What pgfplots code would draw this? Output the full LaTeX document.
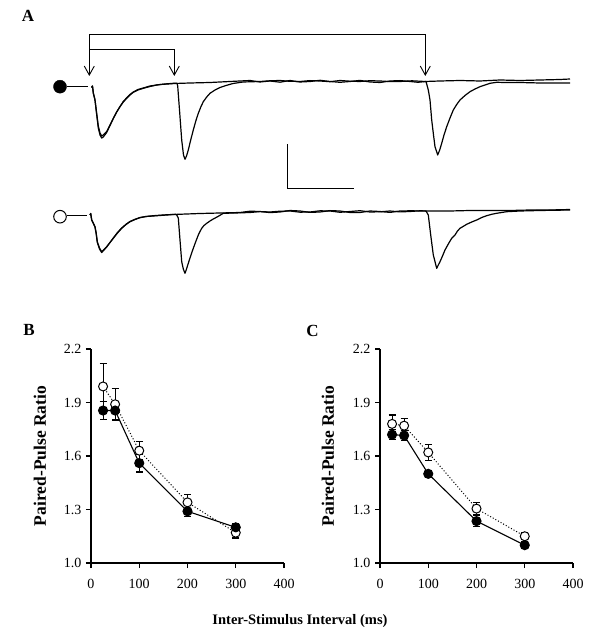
\documentclass[border=0pt]{standalone}
\usepackage{pgfplots}
\pgfplotsset{compat=1.18}
\usepackage{fontspec}
\setmainfont{Liberation Serif}
\usetikzlibrary{arrows.meta}

\pgfplotsset{
  ppr/.style={scale only axis, width=193pt, height=214pt, anchor=south west,
    xmin=0, xmax=400, ymin=1, ymax=2.2,
    axis x line*=bottom, axis y line*=left,
    xtick={0,100,200,300,400}, ytick={1.0,1.3,1.6,1.9,2.2},
    yticklabel style={xshift=-1pt, /pgf/number format/.cd, fixed, fixed zerofill, precision=1},
    xticklabel style={yshift=-8pt},
    tick align=outside, major tick length=5pt,
    tick style={line width=1.1pt, black},
    axis line style={line width=1.2pt},
    ticklabel style={font=\fontsize{14}{14}\selectfont},
    /pgf/number format/assume math mode=true,
    clip=false},
  filledser/.style={black, line width=1.1pt, solid, mark=*, mark size=4.5pt,
    mark options={solid, fill=black},
    error bars/.cd, y dir=both, y explicit,
    error bar style={solid, line width=1.1pt},
    error mark options={solid, rotate=90, mark size=3.5pt, line width=1.1pt}},
  openser/.style={black, line width=1pt, dash pattern=on 1pt off 2pt, mark=*, mark size=4.5pt,
    mark options={solid, fill=white, draw=black, line width=1pt},
    error bars/.cd, y dir=both, y explicit,
    error bar style={solid, line width=1.1pt},
    error mark options={solid, rotate=90, mark size=3.5pt, line width=1.1pt}},
  trace/.style={black, line width=1.2pt, line join=round, no marks}
}

\begin{document}
\begin{tikzpicture}
\path[use as bounding box] (0,0) rectangle (600pt,632pt);

% ---------- canvas axis (pixel coordinates, y downward negative) ----------
\begin{axis}[at={(0pt,0pt)}, anchor=south west, scale only axis,
  width=600pt, height=632pt, xmin=0, xmax=600, ymin=-632, ymax=0,
  hide axis, clip=false]

% bracket arrows
\addplot[black, line width=0.9pt, {Straight Barb[length=9pt,width=10pt]}-{Straight Barb[length=9pt,width=10pt]}]
  coordinates {(89.3,-76) (89.3,-34.3) (425.3,-34.3) (425.3,-76)};
\addplot[black, line width=0.9pt, -{Straight Barb[length=9pt,width=10pt]}]
  coordinates {(89.3,-49) (174.3,-49) (174.3,-76)};

% scale bar
\addplot[black, line width=1.1pt] coordinates {(287.3,-144.3) (287.3,-188.3) (354.3,-188.3)};

% condition symbols and dashes
\addplot[black, line width=1.2pt] coordinates {(67,-86.7) (88,-86.7)};
\addplot[black, line width=1.2pt] coordinates {(67,-215.7) (87,-215.7)};
\addplot[only marks, mark=*, mark size=6.5pt, black] coordinates {(60,-86.7)};
\addplot[only marks, mark=*, mark size=6.3pt, mark options={fill=white, draw=black, line width=1pt}] coordinates {(60,-216.7)};

% top traces, sweep with 50 ms interval
\addplot[trace] coordinates {
(91.5,-87.5) (92.5,-86) (93.3,-93) (95,-100) (96.5,-112) (98.3,-126) (100,-133) (101.7,-136)
(103.3,-135) (106.7,-131.5) (110,-125) (113.3,-118.3) (116.7,-112) (120,-106.7) (123.3,-102)
(126.7,-98.3) (130,-95) (133.3,-92.3) (138,-90) (143.3,-88.3) (150,-86.5) (156.7,-85) (165,-84)
(173.3,-83.3) (177,-83.3) (177.7,-86) (179.5,-110) (181.7,-140) (183.5,-155) (185,-159.3)
(186.5,-156) (188.3,-150) (190.7,-140) (193.3,-130) (195.8,-121) (198.3,-113.3) (200.8,-107)
(203.3,-101.7) (206.7,-97) (210,-93.3) (215,-90) (220,-87.5) (226,-85.5) (233,-83.5) (243,-82)
(260,-81.5) (270,-80.8) (280,-80.5) (290,-81.3) (300,-81.5) (310,-80.6) (320,-81) (330,-81.7)
(340,-80.5) (350,-81.2) (360,-81.5) (370,-80.7) (380,-81) (390,-81.6) (400,-81.5) (412,-80.8)
(425,-81.5) (440,-81) (460,-80.5) (480,-81) (500,-80) (520,-80.5) (540,-80) (560,-79.5) (570,-79)};
% top traces, sweep with 200 ms interval
\addplot[trace] coordinates {
(91.5,-87.5) (92.5,-86) (93.3,-93) (95,-100) (96.5,-113) (98.3,-128) (100,-135) (101.7,-138)
(103.3,-137) (106.7,-132.5) (110,-125.5) (113.3,-118.5) (116.7,-112) (120,-106.5) (123.3,-101.5)
(126.7,-97.8) (130,-94.5) (133.3,-92) (138,-89.5) (143.3,-88) (150,-86) (160,-84.5) (175,-83.5)
(190,-83) (210,-82.5) (230,-81.5) (250,-80.5) (260,-82) (270,-81) (280,-82.2) (290,-80.5)
(300,-82) (310,-81.5) (320,-80.3) (330,-81.5) (340,-82.3) (350,-81.5) (360,-80.4) (370,-82)
(380,-82.5) (390,-81) (400,-80.6) (410,-81.5) (418,-82.3) (426,-81.5) (428.3,-90) (430,-100)
(431.7,-120) (433.5,-135) (435,-146.7) (437.7,-155) (439.7,-150) (441.7,-143.3) (444,-135)
(446.7,-126.7) (450,-118) (453.3,-110) (456.7,-104.5) (460,-100) (465,-95.5) (470,-91.7)
(475,-89) (480,-86.7) (485,-85) (490,-83.3) (496.7,-82.3) (505,-82.5) (520,-82.5) (540,-83)
(560,-83) (570,-83)};

% bottom traces, sweep with 50 ms interval
\addplot[trace] coordinates {
(90,-215) (90.7,-213.5) (91.7,-220) (93.3,-223) (95,-226.7) (96.2,-233) (97.3,-241.7)
(99.5,-248) (101.7,-251.7) (104,-249.5) (106.7,-246.7) (110,-242.5) (113.3,-238.3)
(117.5,-233) (121.7,-228.3) (126,-224.5) (130,-221.7) (135,-219.5) (140,-217.7) (146,-216.5)
(153.3,-215.7) (163,-215) (175.5,-214.3) (176.5,-214.5) (178.3,-218) (180,-240) (181.7,-261.7)
(183.3,-269) (185,-273.3) (186.5,-269) (188.3,-263.3) (190.8,-255.5) (193.3,-248.3)
(195.8,-241.5) (198.3,-235) (200,-231.5) (201.7,-228.3) (204,-225.5) (206.7,-223.3) (210,-221)
(213.3,-219) (218,-216.5) (223.3,-213.3) (235,-213) (250,-212.5) (260,-211.6) (270,-212)
(280,-211.2) (290,-211) (300,-212.2) (310,-212) (320,-210.8) (330,-211) (340,-212.3)
(350,-211.5) (360,-210.7) (370,-212) (380,-211.8) (390,-211) (400,-211.9) (410,-211.5)
(420,-210.8) (430,-211) (450,-211) (470,-210.5) (490,-210.5) (510,-210.5) (530,-210)
(550,-210) (570,-209.5)};
% bottom traces, sweep with 200 ms interval
\addplot[trace] coordinates {
(90,-215) (90.7,-213.5) (91.7,-220) (93.3,-223.5) (95,-227) (96.2,-234) (97.3,-242.5)
(99.5,-249) (101.7,-252.5) (104,-250) (106.7,-247) (110,-242.5) (113.3,-238)
(117.5,-232.5) (121.7,-228) (126,-224.3) (130,-221.5) (135,-219.3) (140,-217.5) (146,-216.5)
(153.3,-216) (173.3,-214.5) (200,-213.5) (220,-213) (240,-212.5) (250,-211.2) (260,-211.5)
(270,-212.6) (280,-212) (290,-210.5) (300,-211) (310,-212.4) (320,-212) (330,-210.6)
(340,-211) (350,-212.5) (360,-212.5) (370,-211) (380,-211.5) (390,-212.4) (400,-211)
(410,-210.8) (426,-211) (428.3,-215) (430.7,-235) (433.3,-255) (436.7,-268.3) (438.3,-265)
(440,-261.7) (442.5,-256) (445,-250) (448.3,-244) (451.7,-238.3) (455,-235) (457.5,-231)
(460,-228.3) (466.7,-224.3) (471.7,-222) (476.7,-220) (481.7,-217.5) (486.7,-215.7)
(491.7,-214.3) (496.7,-213.3) (506.7,-211.7) (520,-211) (540,-210.5) (570,-210)};

% texts
\node[font=\bfseries\fontsize{17}{17}\selectfont] at (axis cs:28,-16) {A};
\node[font=\bfseries\fontsize{17}{17}\selectfont] at (axis cs:29,-330) {B};
\node[font=\bfseries\fontsize{17}{17}\selectfont] at (axis cs:312.5,-331) {C};
\node[rotate=90, font=\bfseries\fontsize{17.5}{17.5}\selectfont] at (axis cs:40,-456) {Paired-Pulse Ratio};
\node[rotate=90, font=\bfseries\fontsize{17.5}{17.5}\selectfont] at (axis cs:328,-456) {Paired-Pulse Ratio};
\node[font=\bfseries\fontsize{14.5}{14.5}\selectfont] at (axis cs:300,-621) {Inter-Stimulus Interval (ms)};
\end{axis}

% ---------- panel B ----------
\begin{axis}[ppr, at={(91pt,69pt)}]
\addplot[openser] coordinates {
(25,1.99) +- (0,0.13)
(50,1.89) +- (0,0.09)
(100,1.63) +- (0,0.05)
(200,1.34) +- (0,0.045)
(300,1.17) +- (0,0.03)};
\addplot[filledser] coordinates {
(25,1.855) +- (0,0.05)
(50,1.855) +- (0,0.05)
(100,1.56) +- (0,0.05)
(200,1.29) +- (0,0.03)
(300,1.20) +- (0,0.02)};
\end{axis}

% ---------- panel C ----------
\begin{axis}[ppr, at={(380pt,69pt)}]
\addplot[openser] coordinates {
(25,1.78) +- (0,0.05)
(50,1.77) +- (0,0.04)
(100,1.62) +- (0,0.045)
(200,1.305) +- (0,0.035)
(300,1.15) +- (0,0.02)};
\addplot[filledser] coordinates {
(25,1.72) +- (0,0.03)
(50,1.715) +- (0,0.03)
(100,1.50) +- (0,0.02)
(200,1.235) +- (0,0.03)
(300,1.10) +- (0,0.02)};
\end{axis}
\end{tikzpicture}
\end{document}
